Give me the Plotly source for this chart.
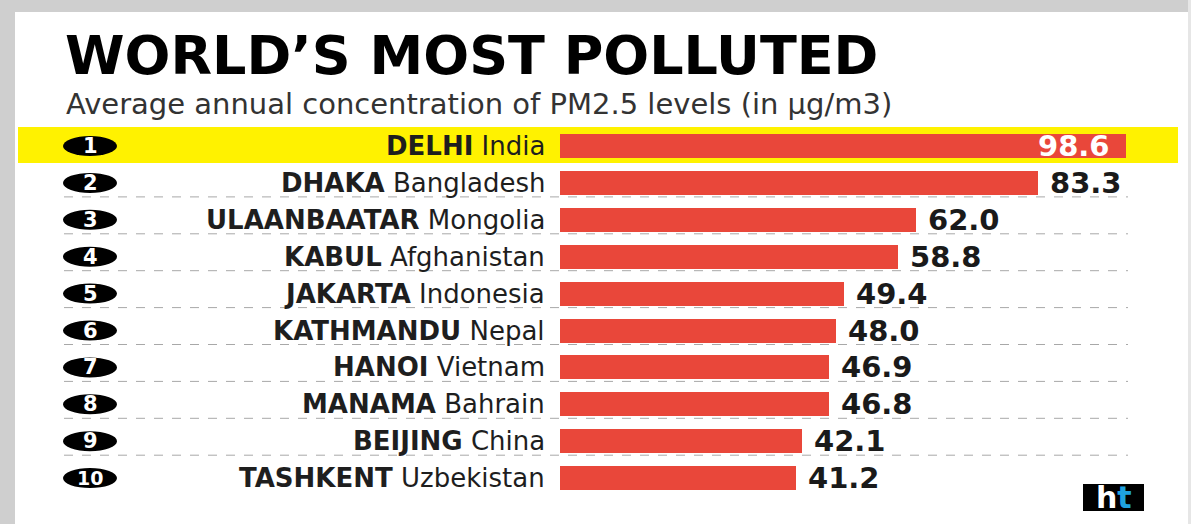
import plotly.graph_objects as go

# ---- data ----
ranks = [1, 2, 3, 4, 5, 6, 7, 8, 9, 10]
cities = ["DELHI", "DHAKA", "ULAANBAATAR", "KABUL", "JAKARTA",
          "KATHMANDU", "HANOI", "MANAMA", "BEIJING", "TASHKENT"]
countries = ["India", "Bangladesh", "Mongolia", "Afghanistan", "Indonesia",
             "Nepal", "Vietnam", "Bahrain", "China", "Uzbekistan"]
values = [98.6, 83.3, 62.0, 58.8, 49.4, 48.0, 46.9, 46.8, 42.1, 41.2]

title_text = "WORLD\u2019S MOST POLLUTED"
subtitle_text = "Average annual concentration of PM2.5 levels (in \u00b5g/m3)"

# ---- geometry ----
W, H = 1191, 524
px_per_unit = 5.74        # x scale
x0_px = 560               # pixel of value 0
row0_px = 146             # centre of first row
row_step = 36.9           # pixels between rows

xr = [-x0_px / px_per_unit, (W - x0_px) / px_per_unit]
yr = [(H - row0_px) / row_step, -row0_px / row_step]

def dx(p):  # pixel width -> data units
    return p / px_per_unit

def xp(p):  # pixel x -> data x
    return (p - x0_px) / px_per_unit

def dy(p):
    return p / row_step

def yp(p):  # pixel y -> data y
    return (p - row0_px) / row_step

BAR = "#e9473a"
YEL = "#fff200"
FONT = "DejaVu Sans"
rows = list(range(len(values)))

fig = go.Figure()
fig.add_trace(go.Bar(
    x=values, y=rows, orientation="h",
    marker=dict(color=BAR, line=dict(width=0)),
    width=dy(24), hoverinfo="skip", showlegend=False,
))

shapes = []
# gray frame
shapes.append(dict(type="rect", xref="paper", yref="paper", x0=0, x1=1,
                   y0=1 - 12 / H, y1=1, fillcolor="#cfcfcf", line=dict(width=0), layer="below"))
shapes.append(dict(type="rect", xref="paper", yref="paper", x0=0, x1=15 / W,
                   y0=0, y1=1, fillcolor="#cfcfcf", line=dict(width=0), layer="below"))
shapes.append(dict(type="rect", xref="paper", yref="paper", x0=1 - 3 / W, x1=1,
                   y0=0, y1=1, fillcolor="#e6e6e6", line=dict(width=0), layer="below"))
# yellow highlight of first row
shapes.append(dict(type="rect", xref="x", yref="y", x0=xp(18), x1=xp(1178),
                   y0=yp(127), y1=yp(163), fillcolor=YEL, line=dict(width=0), layer="below"))
# dashed separators
for i in rows[1:-1]:
    yy = i + dy(14)
    shapes.append(dict(type="line", xref="x", yref="y", x0=xp(64), x1=xp(1128),
                       y0=yy, y1=yy, line=dict(color="#a8a8a8", width=1, dash="dash"),
                       layer="below"))
# rank badges
for i in rows:
    shapes.append(dict(type="circle", xref="x", yref="y",
                       x0=xp(63), x1=xp(117), y0=i - dy(10), y1=i + dy(10),
                       fillcolor="#000000", line=dict(width=0)))
# ht logo box
shapes.append(dict(type="rect", xref="paper", yref="paper",
                   x0=1083 / W, x1=1144 / W, y0=1 - 511 / H, y1=1 - 484 / H,
                   fillcolor="#000000", line=dict(width=0)))

ann = []
ann.append(dict(text="<b>" + title_text + "</b>", xref="paper", yref="paper",
                x=63 / W, y=1 - 56 / H, xanchor="left", yanchor="middle", showarrow=False,
                font=dict(family=FONT, size=54, color="#000000")))
ann.append(dict(text=subtitle_text, xref="paper", yref="paper",
                x=64 / W, y=1 - 104 / H, xanchor="left", yanchor="middle", showarrow=False,
                font=dict(family=FONT, size=29, color="#333333")))
for i, (r, c, k, v) in enumerate(zip(ranks, cities, countries, values)):
    ann.append(dict(text="<b>%d</b>" % r, x=xp(90), y=i, xref="x", yref="y",
                    xanchor="center", yanchor="middle", showarrow=False,
                    font=dict(family=FONT, size=21 if r < 10 else 19, color="#ffffff")))
    ann.append(dict(text="<b>%s</b> %s" % (c, k), x=xp(547), y=i, xref="x", yref="y",
                    xanchor="right", yanchor="middle", showarrow=False,
                    font=dict(family=FONT, size=26, color="#1e1e1e")))
    if i == 0:
        ann.append(dict(text="<b>%.1f</b>" % v, x=v - dx(14), y=i, xref="x", yref="y",
                        xanchor="right", yanchor="middle", showarrow=False,
                        font=dict(family=FONT, size=29, color="#ffffff")))
    else:
        ann.append(dict(text="<b>%.1f</b>" % v, x=v + dx(10), y=i, xref="x", yref="y",
                        xanchor="left", yanchor="middle", showarrow=False,
                        font=dict(family=FONT, size=29, color="#1a1a1a")))
ann.append(dict(text="<b><span style='color:#ffffff'>h</span><span style='color:#1fa3e0'>t</span></b>",
                xref="paper", yref="paper", x=1113.5 / W, y=1 - 497 / H,
                xanchor="center", yanchor="middle", showarrow=False,
                font=dict(family=FONT, size=30, color="#ffffff")))

fig.update_layout(
    width=W, height=H, margin=dict(l=0, r=0, t=0, b=0),
    paper_bgcolor="#ffffff", plot_bgcolor="rgba(0,0,0,0)",
    xaxis=dict(range=xr, visible=False, fixedrange=True),
    yaxis=dict(range=yr, visible=False, fixedrange=True),
    shapes=shapes, annotations=ann, bargap=0,
)
fig.write_html("out.html", config={"displayModeBar": False},
               post_script="document.body.style.margin='0';document.body.style.overflow='hidden';")
